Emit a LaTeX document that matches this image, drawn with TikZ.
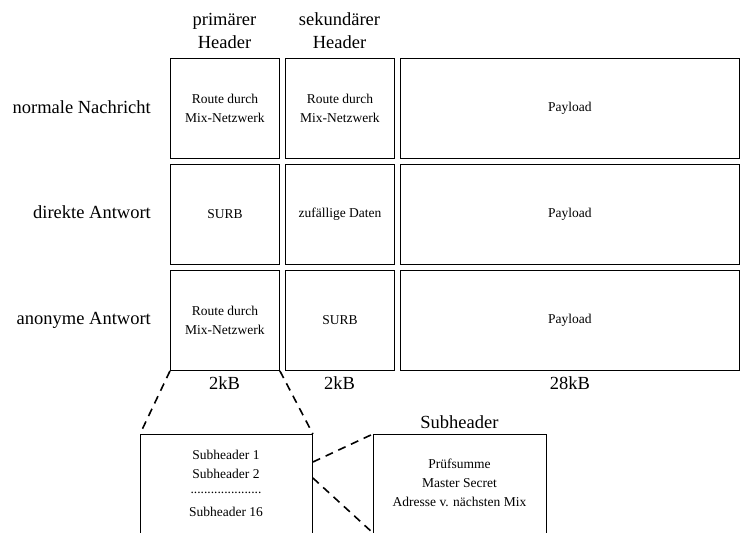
\documentclass[tikz,border=0pt]{standalone}
\usepackage{fontspec}
\setmainfont{Liberation Serif}
\usetikzlibrary{calc}
\begin{document}
\begin{tikzpicture}[x=1pt,y=-1pt,
  cell/.style={draw,line width=0.9pt,anchor=north west,inner sep=0pt,font=\fontsize{13.5}{19}\selectfont,align=center},
  big/.style={font=\fontsize{18.5}{23}\selectfont,inner sep=0pt},
  small/.style={font=\fontsize{13.5}{19}\selectfont,inner sep=0pt,align=center},
  zoomline/.style={dash pattern=on 8pt off 6pt,line width=1.6pt}]
\useasboundingbox (0,0) rectangle (740,533);
\clip (0,0) rectangle (740,533);
% headers
\node[big,align=center] (h1) at (224.5,31) {primärer\\Header};
\node[big,align=center] (h2) at (339.5,31) {sekundärer\\Header};
% row labels
\node[big,anchor=east] (l1) at (151,107) {normale Nachricht};
\node[big,anchor=east] (l2) at (151,212) {direkte Antwort};
\node[big,anchor=east] (l3) at (151,320) {anonyme Antwort};
% row 1
\node[cell,minimum width=109pt,minimum height=100pt] (a1) at (170,58) {Route durch\\Mix-Netzwerk};
\node[cell,minimum width=109pt,minimum height=100pt] (b1) at (285,58) {Route durch\\Mix-Netzwerk};
\node[cell,minimum width=339pt,minimum height=100pt] (c1) at (400,58) {Payload};
% row 2
\node[cell,minimum width=109pt,minimum height=100pt] (a2) at (170,164) {SURB};
\node[cell,minimum width=109pt,minimum height=100pt] (b2) at (285,164) {zufällige Daten};
\node[cell,minimum width=339pt,minimum height=100pt] (c2) at (400,164) {Payload};
% row 3
\node[cell,minimum width=109pt,minimum height=100pt] (a3) at (170,270) {Route durch\\Mix-Netzwerk};
\node[cell,minimum width=109pt,minimum height=100pt] (b3) at (285,270) {SURB};
\node[cell,minimum width=339pt,minimum height=100pt] (c3) at (400,270) {Payload};
% sizes
\node[big] (s1) at (224.5,383) {2kB};
\node[big] (s2) at (339.5,383) {2kB};
\node[big] (s3) at (570,383) {28kB};
% bottom boxes
\node[draw,line width=0.9pt,anchor=north west,minimum width=172pt,minimum height=120pt,inner sep=0pt] (sub) at (140,434) {};
\node[small] (t1) at (226,455) {Subheader 1};
\node[small] (t2) at (226,474) {Subheader 2};
\node[small] (t3) at (226,493) {.....................};
\node[small] (t4) at (226,512) {Subheader 16};
\node[draw,line width=0.9pt,anchor=north west,minimum width=173pt,minimum height=120pt,inner sep=0pt] (det) at (373,434) {};
\node[big] (dh) at (459.5,422) {Subheader};
\node[small] (u1) at (459.5,464) {Prüfsumme};
\node[small] (u2) at (459.5,483) {Master Secret};
\node[small] (u3) at (459.5,502) {Adresse v. nächsten Mix};
% zoom lines
\coordinate (p1) at ($(sub.north east)+(0,28)$);
\coordinate (p2) at ($(sub.north east)+(0,44)$);
\coordinate (q2) at ($(det.north west)+(0,99)$);
\draw[zoomline] (a3.south west) -- (sub.north west);
\draw[zoomline] (a3.south east) -- (sub.north east);
\draw[zoomline] (p1) -- (det.north west);
\draw[zoomline] (p2) -- (q2);
\end{tikzpicture}
\end{document}
